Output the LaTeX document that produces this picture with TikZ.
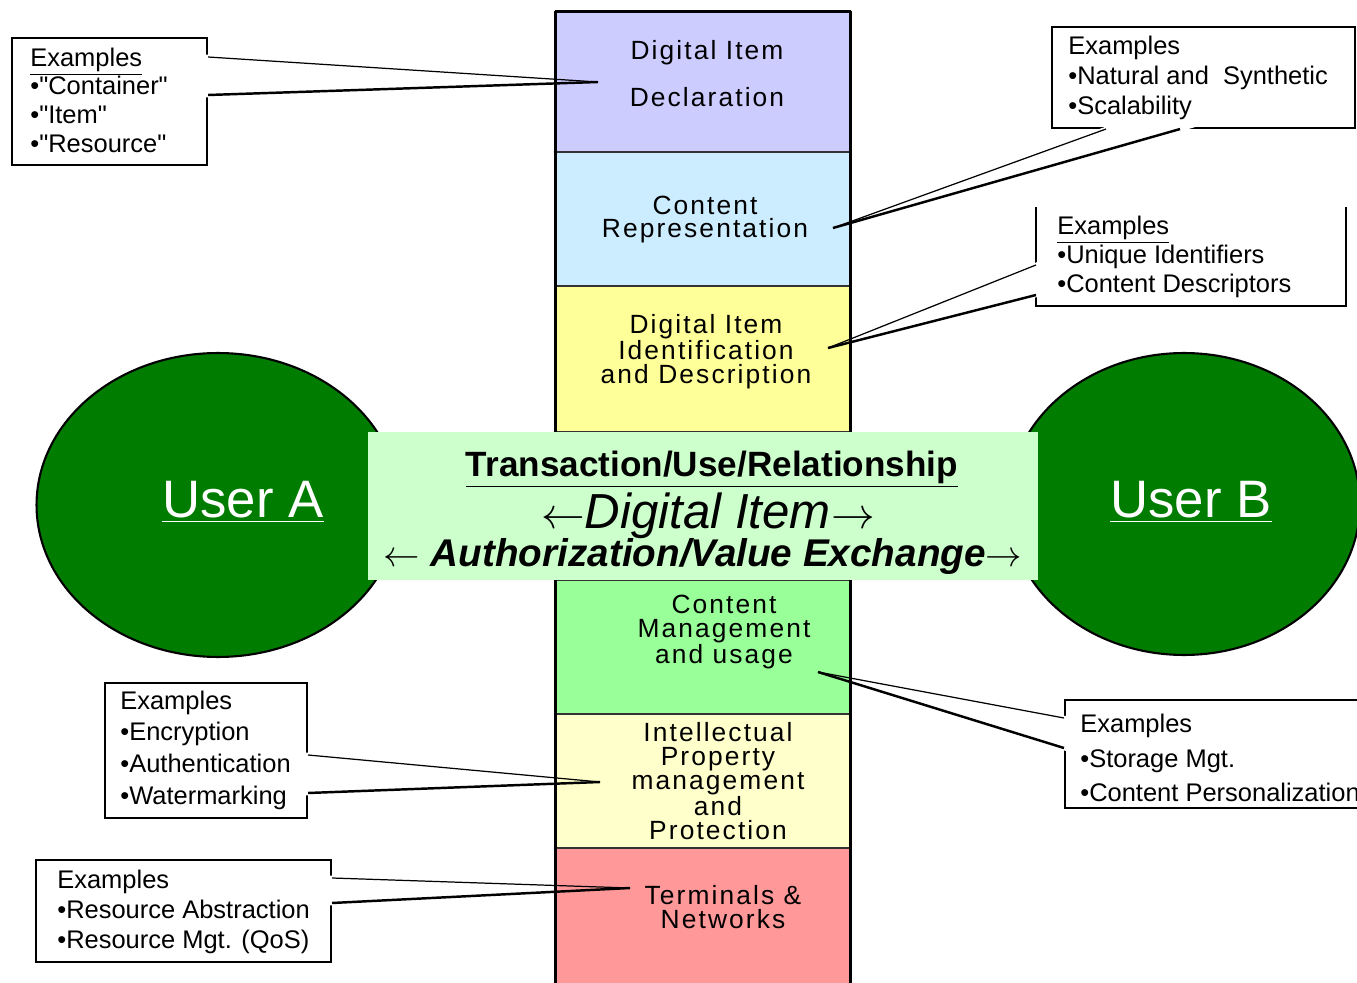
\documentclass[tikz,border=0pt]{standalone}
\usepackage{fontspec}
\setmainfont{Liberation Sans}
\newfontfamily\bandfont[LetterSpace=8]{Liberation Sans}
\usetikzlibrary{positioning,shapes.geometric}
\definecolor{declfill}{RGB}{204,204,255}
\definecolor{reprfill}{RGB}{204,236,255}
\definecolor{identfill}{RGB}{255,255,153}
\definecolor{panelfill}{RGB}{204,255,204}
\definecolor{mgmtfill}{RGB}{153,255,153}
\definecolor{ipmpfill}{RGB}{255,255,204}
\definecolor{termfill}{RGB}{255,153,153}
\definecolor{userfill}{RGB}{0,125,0}
\tikzset{
  band/.style = {rectangle, draw=black!80, line width=0.7pt,
    minimum width=5.88cm, inner sep=0pt},
  bandtext/.style = {align=center, inner sep=0pt,
    font=\bandfont\fontsize{15pt}{13.6pt}\selectfont},
  exframe/.style = {rectangle, draw=black, line width=1.2pt, fill=white,
    inner sep=0pt},
  extext/.style = {align=left, inner sep=0pt, anchor=west,
    font=\fontsize{14.5pt}{#1}\selectfont},
  userblob/.style = {ellipse, draw=black, line width=1.2pt, fill=userfill},
  usertext/.style = {inner sep=0pt, white, font=\fontsize{30pt}{34pt}\selectfont},
  paneltext/.style = {inner sep=0pt, anchor=base},
  gapfill/.style = {fill=white, draw=white, line width=2.6pt},
  pointer_a/.style = {draw=black, line width=0.7pt},
  pointer_b/.style = {draw=black, line width=1.4pt}
}

\begin{document}
\begin{tikzpicture}[x=0.02cm,y=-0.02cm]
\useasboundingbox (0,0) rectangle (1357,983);

% the two users
\node [userblob, minimum width=7.26cm, minimum height=6.08cm] (userA) at (218,505) {};
\node [userblob, minimum width=7.04cm, minimum height=6.04cm] (userB) at (1184,504) {};
\node [usertext, anchor=base] (userAtxt) at (243,518) {\underline{User A}};
\node [usertext, anchor=base] (userBtxt) at (1191,518) {\underline{User B}};

% example boxes
\node [exframe, minimum width=3.9cm, minimum height=2.54cm] (exDecl) at (109.5,101.5) {};
\node [exframe, minimum width=6.06cm, minimum height=2.02cm] (exRepr) at (1203.5,77.5) {};
\node [exframe, draw=none, minimum width=6.16cm, minimum height=1.94cm] (exIdent) at (1191,256.5) {};
\draw [line width=1.2pt] (exIdent.north west) -- (exIdent.south west)
  -- (exIdent.south east) -- (exIdent.north east);
\node [exframe, minimum width=4.04cm, minimum height=2.7cm] (exIpmp) at (206,750.5) {};
\node [exframe, minimum width=7.1cm, minimum height=2.16cm] (exMgmt) at (1242.5,754) {};
\node [exframe, minimum width=5.9cm, minimum height=2.04cm] (exTerm) at (183.5,911) {};

\node [extext=16.3pt] (exDeclTxt) at (30,100)
  {\underline{Examples}\\•\textquotedbl Container\textquotedbl\\•\textquotedbl Item\textquotedbl\\•\textquotedbl Resource\textquotedbl};
\node [extext=17pt] (exReprTxt) at (1068,78)
  {Examples\\•Natural and\ \ Synthetic\\•Scalability};
\node [extext=16.7pt] (exIdentTxt) at (1057,257)
  {\underline{Examples}\\•Unique Identifiers\\•Content Descriptors};
\node [extext=18pt] (exIpmpTxt) at (120,750)
  {Examples\\•Encryption\\•Authentication\\•Watermarking};
\node [extext=19.8pt] (exMgmtTxt) at (1080,758)
  {Examples\\•Storage Mgt.\\•Content Personalization};
\node [extext=17.3pt] (exTermTxt) at (57,912)
  {Examples\\•Resource Abstraction\\•Resource Mgt. (QoS)};

% pointer ends
\coordinate (decl-a) at (exDecl.east |- 0,57);
\coordinate (decl-b) at (exDecl.east |- 0,95);
\coordinate (decl-tip) at (598,82);
\coordinate (repr-a) at (1106,0 |- exRepr.south);
\coordinate (repr-b) at (1180,0 |- exRepr.south);
\coordinate (repr-tip) at (833,228);
\coordinate (ident-a) at (exIdent.west |- 0,265);
\coordinate (ident-b) at (exIdent.west |- 0,295);
\coordinate (ident-tip) at (828,348);
\coordinate (mgmt-a) at (exMgmt.west |- 0,718);
\coordinate (mgmt-b) at (exMgmt.west |- 0,748);
\coordinate (mgmt-tip) at (818,672);
\coordinate (ipmp-a) at (exIpmp.east |- 0,755);
\coordinate (ipmp-b) at (exIpmp.east |- 0,793);
\coordinate (ipmp-tip) at (600,782);
\coordinate (term-a) at (exTerm.east |- 0,878);
\coordinate (term-b) at (exTerm.east |- 0,903);
\coordinate (term-tip) at (630,888);

\foreach \n in {decl,repr,ident,mgmt,ipmp,term}
  \filldraw [gapfill] (\n-a) -- (\n-tip) -- (\n-b) -- cycle;

% the layer column
\node [band, fill=declfill, minimum height=2.8cm] (decl) at (703,82) {};
\node [band, fill=reprfill, minimum height=2.68cm] (repr) at (703,219) {};
\node [band, fill=identfill, minimum height=2.92cm] (ident) at (703,359) {};
\node [band, fill=mgmtfill, minimum height=2.68cm] (mgmt) at (703,647) {};
\node [band, fill=ipmpfill, minimum height=2.68cm] (ipmp) at (703,781) {};
\node [band, fill=termfill, minimum height=2.84cm] (term) at (703,919) {};
\draw [line width=1.8pt] (decl.north west) -- (term.south west);
\draw [line width=1.8pt] (decl.north east) -- (term.south east);
\draw [line width=1.4pt] (decl.north west) -- (decl.north east);

\node [bandtext, font=\bandfont\fontsize{15pt}{26.6pt}\selectfont] (declTxt) at (707,73.5)
  {Digital Item\\Declaration};
\node [bandtext] (reprTxt) at (705,219.5) {Content\\Representation};
\node [bandtext] (identTxt) at (706,351.5) {Digital Item\\Identification\\and Description};
\node [bandtext] (mgmtTxt) at (724,632) {Content\\Management\\and usage};
\node [bandtext] (ipmpTxt) at (718,781)
  {Intellectual\\Property\\management\\and\\Protection};
\node [bandtext] (termTxt) at (723,907) {Terminals \&\\Networks};

% transaction panel
\node [rectangle, fill=panelfill, minimum width=13.4cm, minimum height=2.96cm,
  inner sep=0pt] (panel) at (703,506) {};
\node [paneltext, font=\bfseries\fontsize{20pt}{24pt}\selectfont] (txn) at (712,477)
  {\underline{Transaction/Use/Relationship}};
\node [paneltext, font=\itshape\fontsize{28pt}{32pt}\selectfont] (ditem) at (708,528)
  {$\leftarrow$Digital Item$\rightarrow$};
\node [paneltext, font=\bfseries\itshape\fontsize{22pt}{26pt}\selectfont] (auth) at (703,566)
  {$\leftarrow$ Authorization/Value Exchange$\rightarrow$};

% pointer lines
\foreach \n in {decl,repr,ident,mgmt,ipmp,term} {
  \draw [pointer_a] (\n-a) -- (\n-tip);
  \draw [pointer_b] (\n-b) -- (\n-tip);
}
\end{tikzpicture}
\end{document}
